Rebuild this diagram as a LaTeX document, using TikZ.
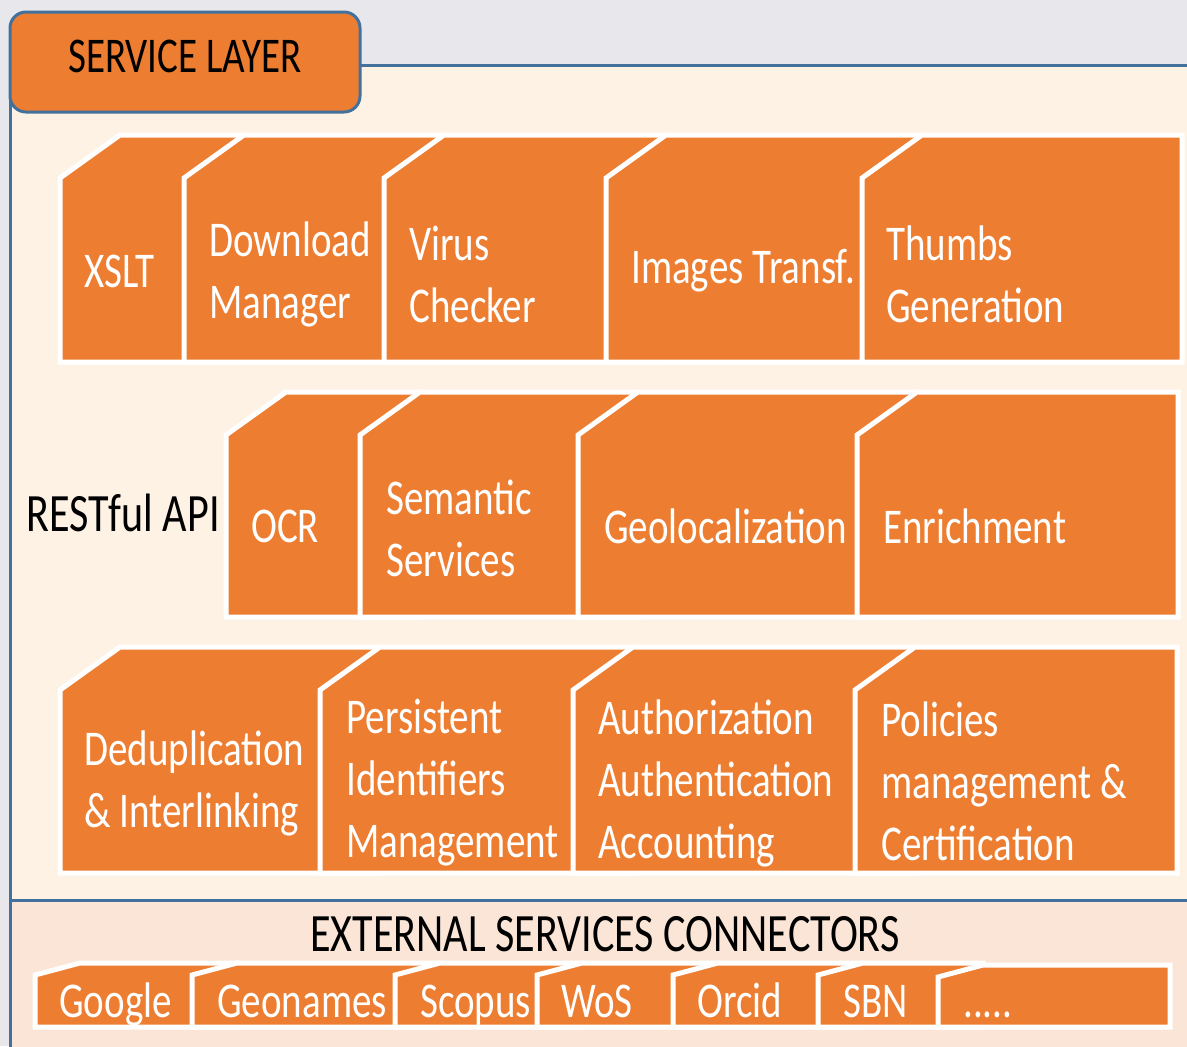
\documentclass[tikz,border=0pt]{standalone}
\usepackage{fontspec}
\setmainfont{Carlito}
\usetikzlibrary{positioning}
\definecolor{layerorange}{HTML}{ED7D31}
\definecolor{layerblue}{HTML}{41719C}
\definecolor{layercream}{HTML}{FEF2E4}
\definecolor{connpeach}{HTML}{FAE5D7}
\definecolor{pagegrey}{HTML}{E8E8EC}

\begin{document}
\begin{tikzpicture}[x=0.5pt,y=-0.5pt,
         svcbox/.style   = {fill=layerorange, draw=white, line width=2.5pt},
         svctext/.style  = {anchor=west, inner sep=0pt, text=white, align=left,
                            xscale=0.78, font=\fontsize{25}{31}\selectfont},
         conntext/.style = {svctext, anchor=base west},
         plaintext/.style= {inner sep=0pt, text=black, xscale=0.78,
                            font=\fontsize{26}{31}\selectfont},
         frame/.style    = {draw=layerblue, line width=1.5pt}
]
      \useasboundingbox (0,0) rectangle (1187,1046);
      \fill[pagegrey] (0,0) rectangle (1187,1046);

      % service layer container
      \draw[frame, fill=layercream] (10,65) rectangle (1230,1090);

      % external connectors band
      \draw[frame, fill=connpeach] (10,900) rectangle (1230,1090);

      % tab
      \draw[frame, fill=layerorange, rounded corners=8pt] (10,12) rectangle (360,112);
      \node[plaintext, font=\fontsize{25}{31}\selectfont] (tabtext) at (185,56) {SERVICE LAYER};

      % first row
      \draw[svcbox] (60,362)  -- (60,178)  -- (120,135) -- (244,135)  -- (244,362)  -- cycle;
      \draw[svcbox] (184,362) -- (184,178) -- (244,135) -- (444,135)  -- (444,362)  -- cycle;
      \draw[svcbox] (384,362) -- (384,178) -- (444,135) -- (666,135)  -- (666,362)  -- cycle;
      \draw[svcbox] (606,362) -- (606,178) -- (666,135) -- (922,135)  -- (922,362)  -- cycle;
      \draw[svcbox] (862,362) -- (862,178) -- (922,135) -- (1182,135) -- (1182,362) -- cycle;

      \node[svctext] (xslt)     at (84,271)  {XSLT};
      \node[svctext] (download) at (209,274) {Download\\Manager};
      \node[svctext] (virus)    at (409,274) {Virus\\Checker};
      \node[svctext] (images)   at (631,271) {Images Transf.};
      \node[svctext] (thumbs)   at (886,274) {Thumbs\\Generation};

      % second row
      \draw[svcbox] (226,617) -- (226,435) -- (286,392) -- (420,392)  -- (420,617)  -- cycle;
      \draw[svcbox] (360,617) -- (360,435) -- (420,392) -- (638,392)  -- (638,617)  -- cycle;
      \draw[svcbox] (578,617) -- (578,435) -- (638,392) -- (917,392)  -- (917,617)  -- cycle;
      \draw[svcbox] (857,617) -- (857,435) -- (917,392) -- (1178,392) -- (1178,617) -- cycle;

      \node[plaintext, font=\fontsize{27}{31}\selectfont] (restapi) at (123,513) {RESTful API};

      \node[svctext] (ocr)      at (251,526) {OCR};
      \node[svctext] (semantic) at (386,528) {Semantic\\Services};
      \node[svctext] (geoloc)   at (604,526) {Geolocalization};
      \node[svctext] (enrich)   at (883,526) {Enrichment};

      % third row
      \draw[svcbox] (60,873)  -- (60,690)  -- (120,647) -- (380,647)  -- (380,873)  -- cycle;
      \draw[svcbox] (320,873) -- (320,690) -- (380,647) -- (633,647)  -- (633,873)  -- cycle;
      \draw[svcbox] (573,873) -- (573,690) -- (633,647) -- (915,647)  -- (915,873)  -- cycle;
      \draw[svcbox] (855,873) -- (855,690) -- (915,647) -- (1177,647) -- (1177,873) -- cycle;

      \node[svctext] (dedup)    at (84,783)  {Deduplication\\\& Interlinking};
      \node[svctext] (pid)      at (346,783) {Persistent\\Identifiers\\Management};
      \node[svctext] (aaa)      at (598,783) {Authorization\\Authentication\\Accounting};
      \node[svctext] (policies) at (881,781) {Policies\\management \&\\Certification};

      % external services connectors
      \node[plaintext, font=\fontsize{27}{31}\selectfont] (extconn) at (605,934) {EXTERNAL SERVICES CONNECTORS};

      \draw[svcbox] (35,1027)  -- (35,975)  -- (80,963)  -- (237,963)  -- (237,1027)  -- cycle;
      \draw[svcbox] (192,1027) -- (192,975) -- (237,963) -- (440,963)  -- (440,1027)  -- cycle;
      \draw[svcbox] (395,1027) -- (395,975) -- (440,963) -- (582,963)  -- (582,1027)  -- cycle;
      \draw[svcbox] (537,1027) -- (537,975) -- (582,963) -- (718,963)  -- (718,1027)  -- cycle;
      \draw[svcbox] (673,1027) -- (673,975) -- (718,963) -- (863,963)  -- (863,1027)  -- cycle;
      \draw[svcbox] (818,1027) -- (818,975) -- (863,963) -- (983,963)  -- (983,1027)  -- cycle;
      \draw[svcbox] (938,1027) -- (938,977) -- (983,965) -- (1170,965) -- (1170,1027) -- cycle;

      \node[conntext] (google)   at (59,1017)  {Google};
      \node[conntext] (geonames) at (217,1017) {Geonames};
      \node[conntext] (scopus)   at (420,1017) {Scopus};
      \node[conntext] (wos)      at (561,1017) {WoS};
      \node[conntext] (orcid)    at (697,1017) {Orcid};
      \node[conntext] (sbn)      at (843,1017) {SBN};
      \node[conntext] (more)     at (963,1017) {.....};
\end{tikzpicture}
\end{document}
